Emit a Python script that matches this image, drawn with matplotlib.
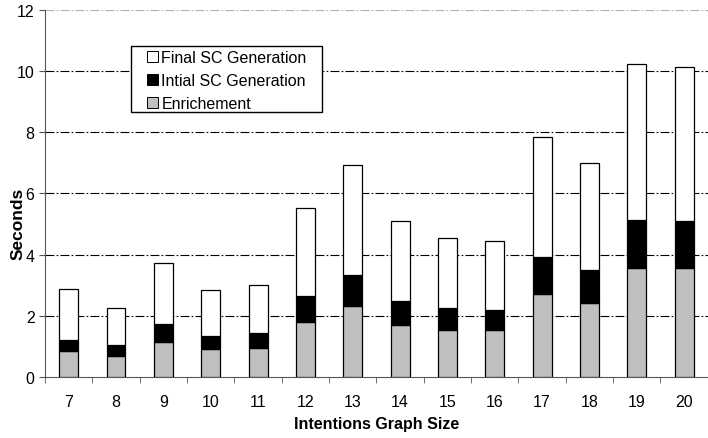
import matplotlib
matplotlib.use("Agg")
from matplotlib import pyplot as plt
from matplotlib.patches import Patch, Rectangle
import numpy as np

sizes = ["7", "8", "9", "10", "11", "12", "13", "14", "15", "16", "17", "18", "19", "20"]
# cumulative heights
enrichment = [0.85, 0.68, 1.16, 0.90, 0.96, 1.81, 2.31, 1.71, 1.54, 1.53, 2.71, 2.43, 3.57, 3.55]
initial_top = [1.21, 1.03, 1.72, 1.34, 1.43, 2.66, 3.35, 2.49, 2.25, 2.20, 3.91, 3.50, 5.13, 5.10]
final_top = [2.87, 2.27, 3.72, 2.85, 3.02, 5.52, 6.93, 5.09, 4.56, 4.46, 7.85, 7.01, 10.23, 10.14]

initial = np.array(initial_top) - np.array(enrichment)
final = np.array(final_top) - np.array(initial_top)

plt.rcParams["font.family"] = ["Liberation Sans", "DejaVu Sans"]
fs = 11.5

fig = plt.figure(figsize=(7.08, 4.39), dpi=100)
ax = fig.add_axes([0.0636, 0.139, 0.936, 0.836])

x = np.arange(len(sizes))
w = 0.4
ax.bar(x, enrichment, w, color="#c0c0c0", edgecolor="black", linewidth=0.9,
       label="Enrichement", zorder=3)
ax.bar(x, initial, w, bottom=enrichment, color="black", edgecolor="black",
       linewidth=0.9, label="Intial SC Generation", zorder=3)
ax.bar(x, final, w, bottom=initial_top, color="white", edgecolor="black",
       linewidth=0.9, label="Final SC Generation", zorder=3)

for v in range(2, 12, 2):
    ax.axhline(v, color="black", linestyle="-.", linewidth=0.8, dashes=(8, 2, 1.5, 2), zorder=1)
ax.axhline(12, color="#b0b0b0", linestyle="-.", linewidth=0.8, dashes=(8, 2, 1.5, 2), zorder=1)

ax.set_xlim(-0.5, len(sizes) - 0.5)
ax.set_ylim(0, 12)
ax.set_yticks(range(0, 13, 2))
ax.set_xticks(x)
ax.set_xticklabels(sizes)
ax.set_xticks(np.arange(-0.5, len(sizes), 1.0), minor=True)
ax.tick_params(axis="x", which="major", length=0, labelsize=fs, pad=12)
ax.tick_params(axis="x", which="minor", length=4, direction="out", color="#555555")
ax.tick_params(axis="y", length=4, direction="out", labelsize=fs, color="#555555")

for s in ["top", "right"]:
    ax.spines[s].set_visible(False)
ax.spines["left"].set_color("#555555")
ax.spines["bottom"].set_color("#555555")

ax.set_xlabel("Intentions Graph Size", fontweight="bold", fontsize=fs, labelpad=5)
ax.set_ylabel("Seconds", fontweight="bold", fontsize=12.5)
ax.yaxis.set_label_coords(-0.029, 0.421)

# legend frame drawn separately: wide side padding, tight vertical padding
frame = Rectangle((131 / 708, 1 - 113 / 439), 191 / 708, 66 / 439,
                  transform=fig.transFigure, facecolor="white", edgecolor="black",
                  linewidth=1.0, zorder=4)
ax.add_artist(frame)
frame.set_clip_on(False)

handles = [
    Patch(facecolor="white", edgecolor="black", linewidth=0.7, label="Final SC Generation"),
    Patch(facecolor="black", edgecolor="black", linewidth=0.7, label="Intial SC Generation"),
    Patch(facecolor="#c0c0c0", edgecolor="black", linewidth=0.7, label="Enrichement"),
]
leg = ax.legend(handles=handles, loc="upper left",
                bbox_to_anchor=(147 / 708, 1 - 51 / 439), bbox_transform=fig.transFigure,
                fontsize=fs, frameon=False,
                handlelength=0.7, handleheight=0.7, handletextpad=0.2,
                labelspacing=0.5, borderpad=0, borderaxespad=0)
leg.set_zorder(5)

fig.savefig("out.png", dpi=100)
